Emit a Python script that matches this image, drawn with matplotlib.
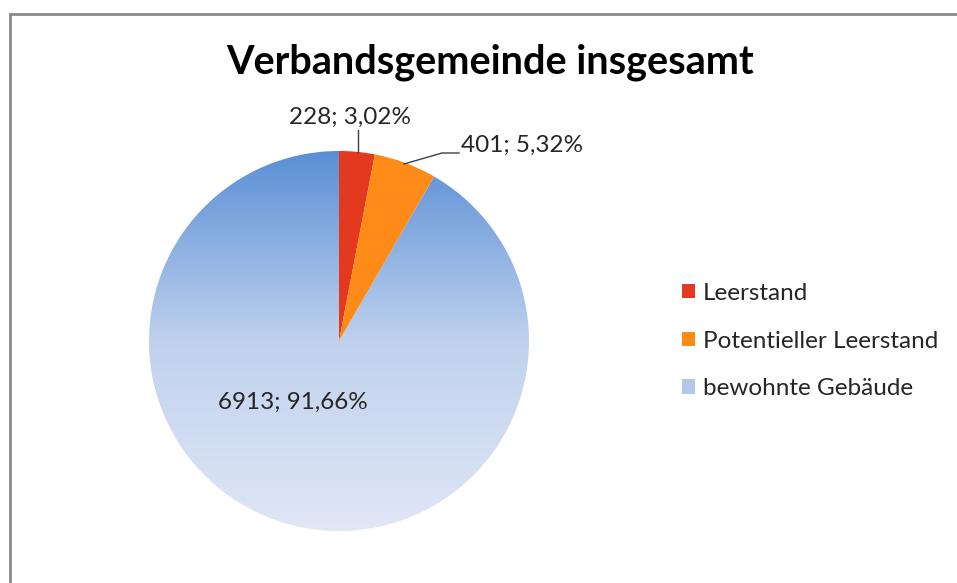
import numpy as np
import matplotlib
matplotlib.use("Agg")
import matplotlib.pyplot as plt
from matplotlib.patches import Rectangle, Patch
from matplotlib.colors import LinearSegmentedColormap

plt.rcParams['font.family'] = ['Lato', 'DejaVu Sans']

# Daten
kategorien = ["Leerstand", "Potentieller Leerstand", "bewohnte Gebäude"]
werte = [228, 401, 6913]
prozent = ["3,02%", "5,32%", "91,66%"]
titel = "Verbandsgemeinde insgesamt"

rot = "#e2391f"
orange = "#fe8a18"
blau_oben = "#5a8fd6"
blau_mitte = "#c0d1ee"
blau_unten = "#e0e7f5"

W, H = 957, 583
fig = plt.figure(figsize=(W / 100, H / 100), dpi=100)

# Rahmen (links/oben sichtbar, rechts/unten abgeschnitten)
fig.patches.append(Rectangle((9.5 / W, -0.1), 1.2, 1.1 - 14.5 / H,
                             transform=fig.transFigure, fill=False,
                             edgecolor="#8a8a8a", linewidth=2.0))

cx, cy, r = 339, 341, 190
ax = fig.add_axes([(cx - r) / W, (H - cy - r) / H, 2 * r / W, 2 * r / H])
ax.axis("off")

wedges, _ = ax.pie(werte, colors=[rot, orange, blau_oben], startangle=90,
                   counterclock=False, radius=1, center=(0, 0),
                   wedgeprops=dict(linewidth=0))

# Farbverlauf für die blaue Fläche
cmap_blau = LinearSegmentedColormap.from_list("b", [blau_oben, blau_mitte, blau_unten])
grad = np.linspace(0, 1, 256).reshape(-1, 1)
wedges[2].set_facecolor("none")
img = ax.imshow(grad, cmap=cmap_blau, extent=[-1, 1, -1, 1], origin="upper",
                aspect="auto", zorder=0)
img.set_clip_path(wedges[2])
ax.set_xlim(-1, 1)
ax.set_ylim(-1, 1)

def px(x, y):
    return ((x - cx) / r, (cy - y) / r)

# Beschriftungen
fs = 17.5
x, y = px(350, 117)
ax.text(x, y, f"{werte[0]}; {prozent[0]}", ha="center", va="center",
        fontsize=fs, color="#262626", clip_on=False)
ax.plot(*zip(px(358, 130), px(358, 152)), color="#404040", lw=1, clip_on=False)

x, y = px(461, 145)
ax.text(x, y, f"{werte[1]}; {prozent[1]}", ha="left", va="center",
        fontsize=fs, color="#262626", clip_on=False)
ax.plot(*zip(px(404, 164), px(442, 153), px(459, 153)), color="#404040", lw=1,
        clip_on=False)

x, y = px(293, 402)
ax.text(x, y, f"{werte[2]}; {prozent[2]}", ha="center", va="center",
        fontsize=fs, color="#262626")

# Titel
fig.text(490 / W, 1 - 62 / H, titel, ha="center", va="center",
         fontsize=28.5, fontweight="bold", color="black")

# Legende
handles = [Patch(facecolor=rot), Patch(facecolor=orange), Patch(facecolor="#b4c8ea")]
fig.legend(handles, kategorien, loc="center left",
           bbox_to_anchor=(660 / W, 1 - 341 / H), frameon=False,
           fontsize=17.5, handlelength=0.55, handleheight=0.55,
           handletextpad=0.3, labelspacing=1.1, labelcolor="#262626")

fig.savefig("out.png", dpi=100, facecolor="white")
